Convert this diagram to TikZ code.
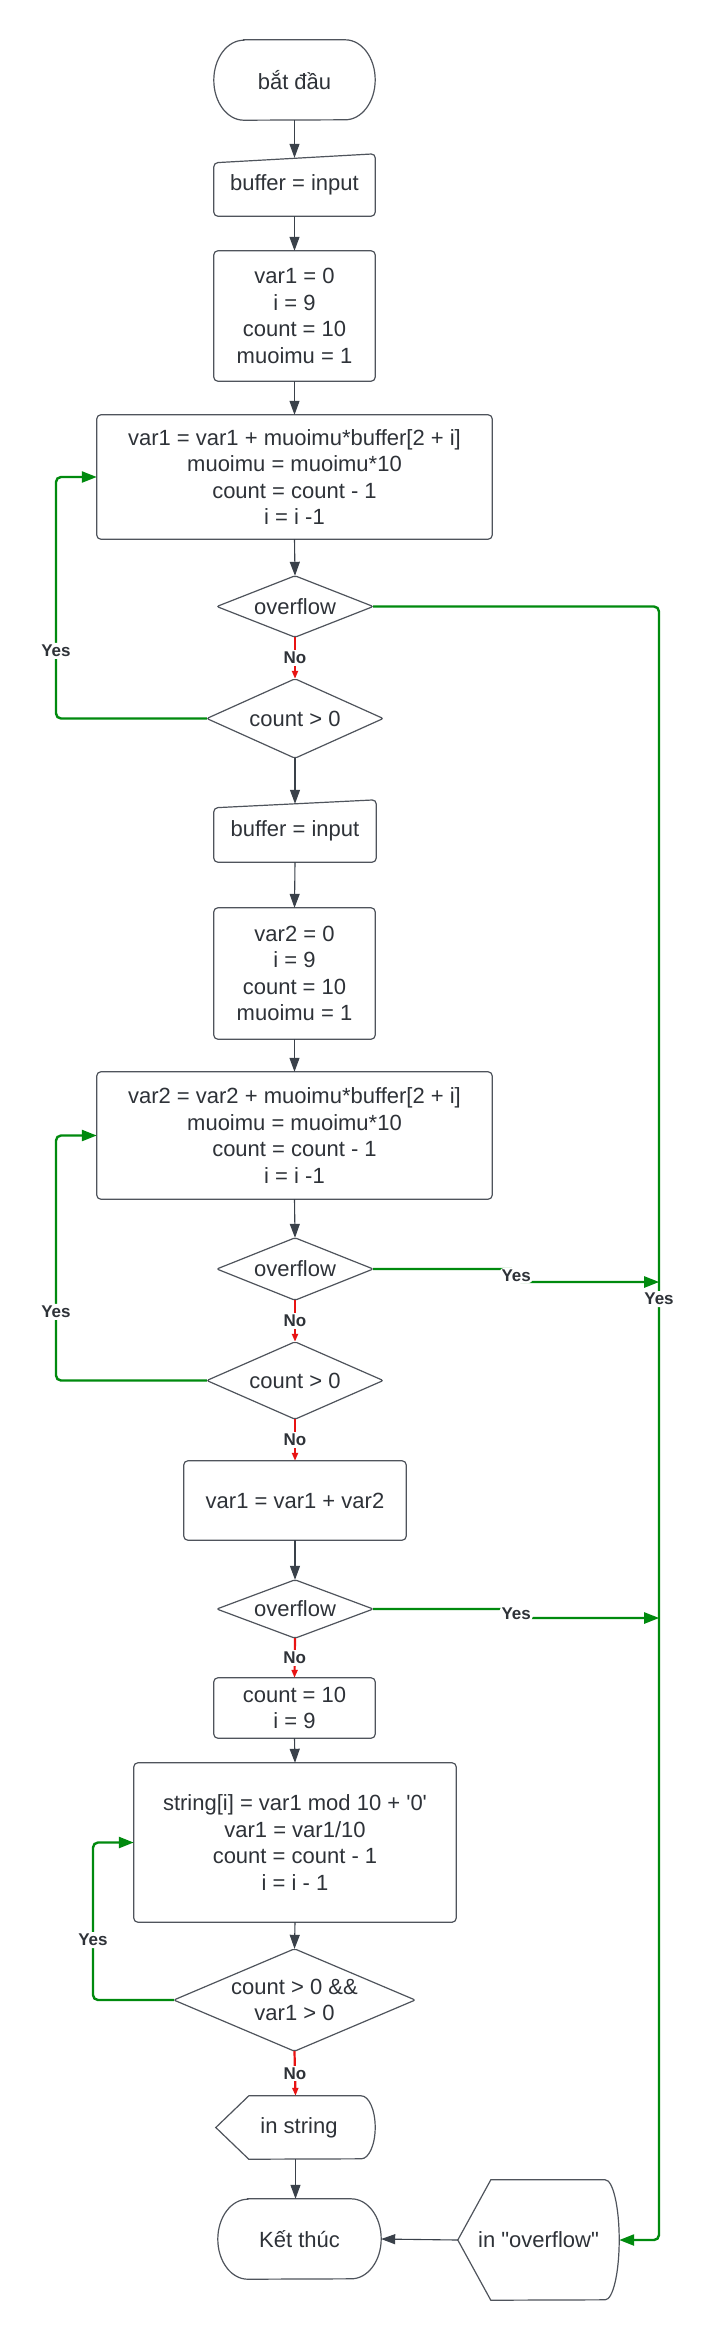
\documentclass[tikz,border=0pt]{standalone}
\usepackage{fontspec}
\setmainfont{Liberation Sans}
\usetikzlibrary{arrows.meta,calc}
\definecolor{txtc}{HTML}{2E3238}
\definecolor{linec}{HTML}{4F545C}
\definecolor{arrc}{HTML}{3A414A}
\definecolor{grn}{HTML}{008A0E}
\definecolor{rd}{HTML}{E81313}
\begin{document}
\begin{tikzpicture}[x=1pt,y=1pt,
  box/.style={inner sep=0pt, align=center, text=txtc, font=\fontsize{22}{26.6}\selectfont},
  shp/.style={draw=linec, line width=1.2pt},
  arr/.style={draw=arrc, line width=1.1pt, -{Triangle[length=14pt,width=10pt]}},
  yesline/.style={draw=grn, line width=2.4pt, rounded corners=5pt, -{Triangle[length=15pt,width=11pt]}},
  noline/.style={draw=rd, line width=2.2pt, -{Triangle[length=8pt,width=6pt]}},
  lab/.style={fill=white, inner sep=2pt, text=txtc, font=\fontsize{17}{20}\selectfont\bfseries},
]
\fill[white] (0,0) rectangle (707,-2340);
\useasboundingbox (0,0) rectangle (707,-2340);

\coordinate (lx1) at (56,0);
\coordinate (lx3) at (93,0);
\coordinate (gx) at (659,0);

% nodes
\node[box, minimum width=161pt, minimum height=80pt] (start) at (294.5,-80) {bắt đầu};
\node[box, minimum width=161pt, minimum height=62pt] (in1) at (294.5,-185) {buffer = input};
\node[box, minimum width=161pt, minimum height=130pt] (init1) at (294.5,-316) {var1 = 0\\ i = 9\\ count = 10\\ muoimu = 1};
\node[box, minimum width=395pt, minimum height=124pt] (loop1) at (294.5,-477) {var1 = var1 + muoimu*buffer[2 + i]\\ muoimu = muoimu*10\\ count = count - 1\\ i = i -1};
\node[box, minimum width=156pt, minimum height=61pt] (ov1) at (295,-606.5) {overflow};
\node[box, minimum width=176pt, minimum height=79pt] (cnt1) at (295,-718.5) {count > 0};
\node[box, minimum width=162pt, minimum height=62pt] (in2) at (295,-831) {buffer = input};
\node[box, minimum width=161pt, minimum height=131pt] (init2) at (294.5,-973.5) {var2 = 0\\ i = 9\\ count = 10\\ muoimu = 1};
\node[box, minimum width=395pt, minimum height=127pt] (loop2) at (294.5,-1135.5) {var2 = var2 + muoimu*buffer[2 + i]\\ muoimu = muoimu*10\\ count = count - 1\\ i = i -1};
\node[box, minimum width=156pt, minimum height=62pt] (ov2) at (295,-1269) {overflow};
\node[box, minimum width=176pt, minimum height=77pt] (cnt2) at (295,-1380.5) {count > 0};
\node[box, minimum width=222pt, minimum height=79pt] (sum) at (295,-1500.5) {var1 = var1 + var2};
\node[box, minimum width=156pt, minimum height=58pt] (ov3) at (295,-1609) {overflow};
\node[box, minimum width=161pt, minimum height=60pt] (init3) at (294.5,-1708) {count = 10\\ i = 9};
\node[box, minimum width=322pt, minimum height=159pt] (str) at (295,-1842.5) {string[i] = var1 mod 10 + \textquotesingle0\textquotesingle\\ var1 = var1/10\\ count = count - 1\\ i = i - 1};
\node[box, minimum width=241pt, minimum height=102pt] (cnt3) at (294.5,-2000) {count > 0 \&\&\\ var1 > 0};
\node[box, minimum width=159pt, minimum height=63pt] (outs) at (295.5,-2127.5) {\hspace*{7pt}in string};
\node[box, minimum width=163pt, minimum height=80pt] (end) at (299.5,-2239) {Kết thúc};
\node[box, minimum width=161pt, minimum height=120pt] (outo) at (538.5,-2240) {in \textquotedbl overflow\textquotedbl};

% outlines
\draw[shp] ([xshift=30pt]start.north west) -- ([xshift=-30pt]start.north east)
  arc[start angle=90, end angle=-90, x radius=30pt, y radius=40pt]
  -- ([xshift=30pt]start.south west)
  arc[start angle=270, end angle=90, x radius=30pt, y radius=40pt] -- cycle;
\draw[shp, rounded corners=4pt] (in1.south west) -- ([yshift=-9pt]in1.north west) -- (in1.north east) -- (in1.south east) -- cycle;
\draw[shp, rounded corners=4pt] (init1.south west) rectangle (init1.north east);
\draw[shp, rounded corners=4pt] (loop1.south west) rectangle (loop1.north east);
\draw[shp, rounded corners=2pt] (ov1.north) -- (ov1.east) -- (ov1.south) -- (ov1.west) -- cycle;
\draw[shp, rounded corners=2pt] (cnt1.north) -- (cnt1.east) -- (cnt1.south) -- (cnt1.west) -- cycle;
\draw[shp, rounded corners=4pt] (in2.south west) -- ([yshift=-8pt]in2.north west) -- (in2.north east) -- (in2.south east) -- cycle;
\draw[shp, rounded corners=4pt] (init2.south west) rectangle (init2.north east);
\draw[shp, rounded corners=4pt] (loop2.south west) rectangle (loop2.north east);
\draw[shp, rounded corners=2pt] (ov2.north) -- (ov2.east) -- (ov2.south) -- (ov2.west) -- cycle;
\draw[shp, rounded corners=2pt] (cnt2.north) -- (cnt2.east) -- (cnt2.south) -- (cnt2.west) -- cycle;
\draw[shp, rounded corners=4pt] (sum.south west) rectangle (sum.north east);
\draw[shp, rounded corners=2pt] (ov3.north) -- (ov3.east) -- (ov3.south) -- (ov3.west) -- cycle;
\draw[shp, rounded corners=4pt] (init3.south west) rectangle (init3.north east);
\draw[shp, rounded corners=4pt] (str.south west) rectangle (str.north east);
\draw[shp, rounded corners=2pt] (cnt3.north) -- (cnt3.east) -- (cnt3.south) -- (cnt3.west) -- cycle;
\draw[shp] (outs.west) -- ([xshift=33pt]outs.north west) -- ([xshift=-14pt]outs.north east)
  arc[start angle=90, end angle=-90, x radius=14pt, y radius=31.5pt]
  -- ([xshift=33pt]outs.south west) -- cycle;
\draw[shp] ([xshift=30pt]end.north west) -- ([xshift=-30pt]end.north east)
  arc[start angle=90, end angle=-90, x radius=30pt, y radius=40pt]
  -- ([xshift=30pt]end.south west)
  arc[start angle=270, end angle=90, x radius=30pt, y radius=40pt] -- cycle;
\draw[shp] (outo.west) -- ([xshift=33pt]outo.north west) -- ([xshift=-14pt]outo.north east)
  arc[start angle=90, end angle=-90, x radius=14pt, y radius=60pt]
  -- ([xshift=33pt]outo.south west) -- cycle;

% connectors
\draw[arr] (start.south) -- ([yshift=-4pt]in1.north);
\draw[arr] (in1.south) -- (init1.north);
\draw[arr] (init1.south) -- (loop1.north);
\draw[arr] (loop1.south) -- (ov1.north);
\draw[noline] (ov1.south) -- node[lab]{No} (cnt1.north);
\draw[yesline] (cnt1.west) -| node[lab,pos=0.64]{Yes} (lx1 |- loop1.west) -- (loop1.west);
\draw[yesline] (ov1.east) -| node[lab,pos=0.712]{Yes} (gx |- outo.east) -- (outo.east);

\draw[arr] (cnt1.south) -- ([yshift=-4pt]in2.north);
\draw[arr] (in2.south) -- (init2.north);
\draw[arr] (init2.south) -- (loop2.north);
\draw[arr] (loop2.south) -- (ov2.north);
\draw[noline] (ov2.south) -- node[lab]{No} (cnt2.north);
\draw[yesline] (cnt2.west) -| node[lab,pos=0.64]{Yes} (lx1 |- loop2.west) -- (loop2.west);
\draw[yesline] (ov2.east) -- ++(143,0) -- node[lab]{Yes} ++(0,-13) -- ++(143,0);

\draw[noline] (cnt2.south) -- node[lab]{No} (sum.north);
\draw[arr] (sum.south) -- (ov3.north);
\draw[yesline] (ov3.east) -- ++(143,0) -- node[lab]{Yes} ++(0,-9) -- ++(143,0);
\draw[noline] (ov3.south) -- node[lab]{No} (init3.north);
\draw[arr] (init3.south) -- (str.north);
\draw[arr] (str.south) -- (cnt3.north);
\draw[yesline] (cnt3.west) -| node[lab,pos=0.69]{Yes} (lx3 |- str.west) -- (str.west);
\draw[noline] (cnt3.south) -- node[lab]{No} (outs.north);
\draw[arr] (outs.south) -- (outs.south |- end.north);
\draw[arr] (outo.west) -- (end.east);
\end{tikzpicture}
\end{document}
